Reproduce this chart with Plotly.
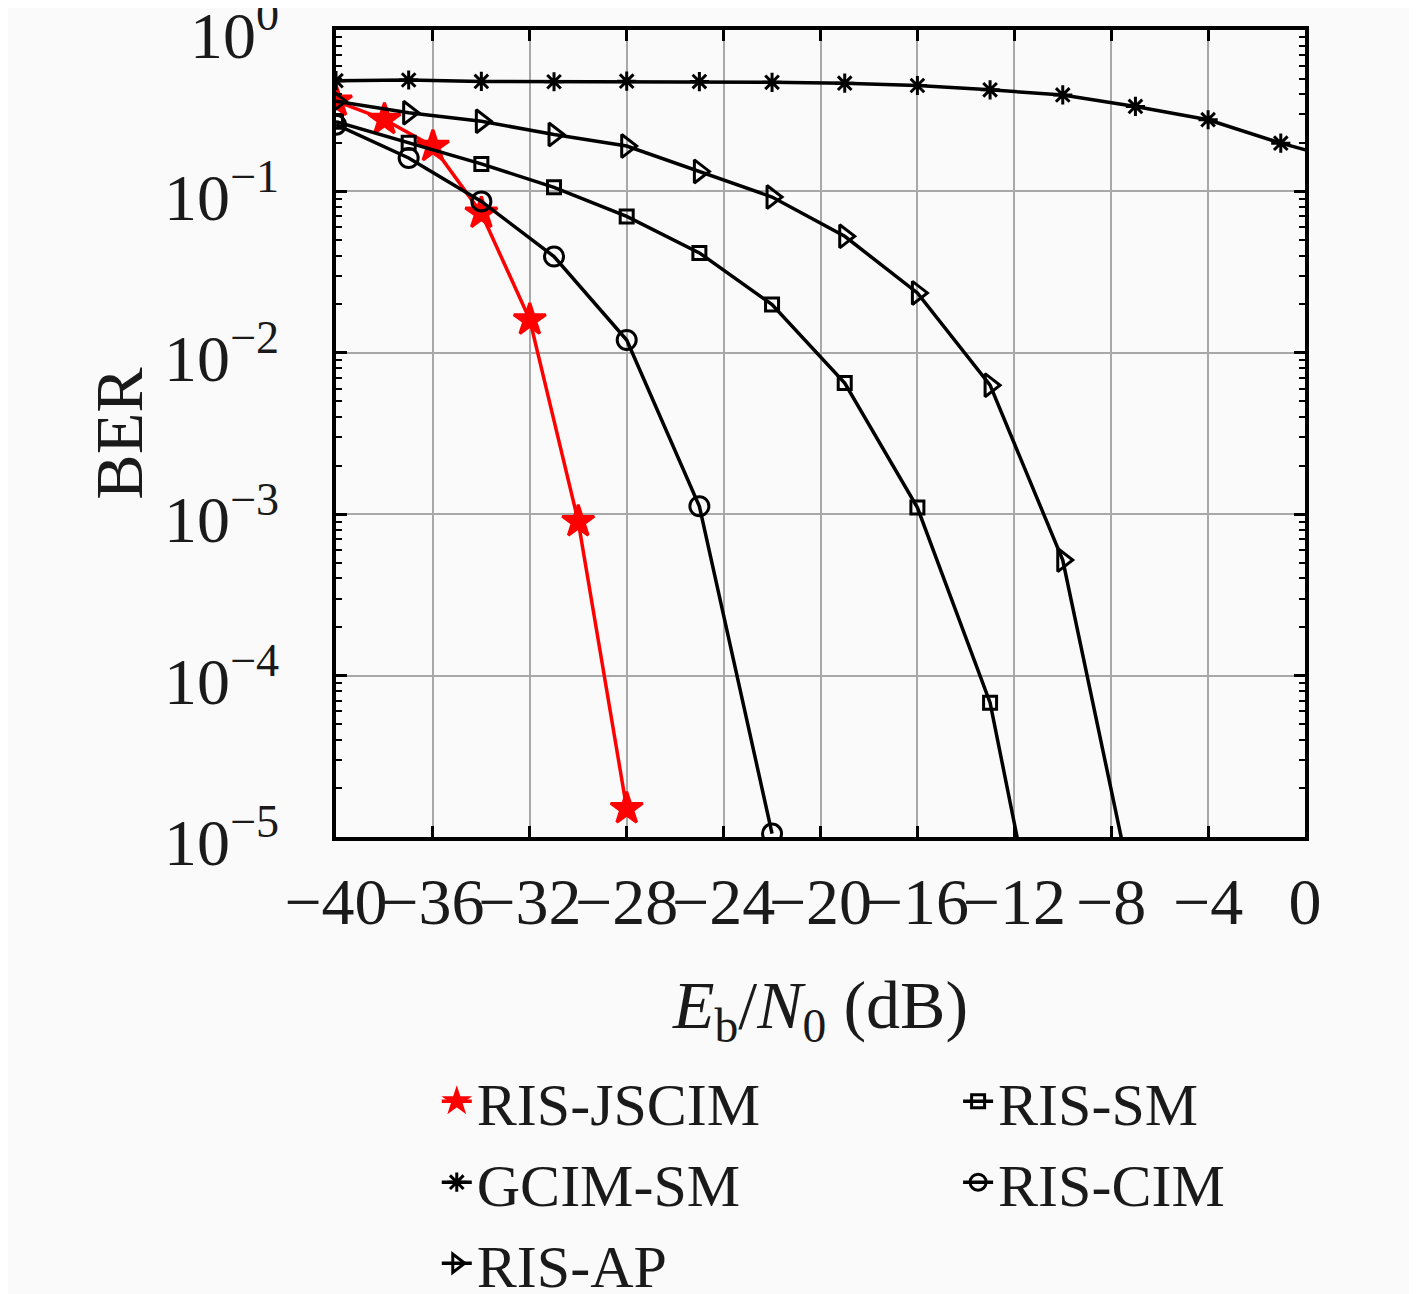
import plotly.graph_objects as go

# Eb/N0 (dB) grids
snr_jscim = [-40, -38, -36, -34, -32, -30, -28]
snr_3db = [-40, -37, -34, -31, -28, -25, -22, -19, -16, -13, -10, -7, -4, -1, 2]

# BER values
ber_jscim = [0.362, 0.279, 0.190, 0.0733, 0.0160, 9.0e-4, 1.5e-5]
ber_gcim = [0.485, 0.49, 0.48, 0.478, 0.482, 0.479, 0.474, 0.468, 0.453, 0.426,
            0.396, 0.336, 0.278, 0.199, 0.15]
ber_ap = [0.362, 0.307, 0.272, 0.225, 0.191, 0.133, 0.0923, 0.0527, 0.0235,
          6.3e-3, 5.2e-4, 3.8e-6]
ber_sm = [0.27, 0.200, 0.148, 0.106, 0.070, 0.0416, 0.0199, 6.5e-3, 1.1e-3,
          6.8e-5, 3.9e-7]
ber_cim = [0.259, 0.161, 0.0867, 0.0395, 0.012, 1.12e-3, 1.05e-5]

x_ticks = [-40, -36, -32, -28, -24, -20, -16, -12, -8, -4, 0]
y_ticks = [1, 0.1, 0.01, 1e-3, 1e-4, 1e-5]
y_ticktext = ["10<sup>0</sup>", "10<sup>−1</sup>", "10<sup>−2</sup>",
              "10<sup>−3</sup>", "10<sup>−4</sup>", "10<sup>−5</sup>"]

FONT = "Liberation Serif"
INK = "#1a1a1a"
BG = "#fafafa"

fig = go.Figure()

def add(x, y, name, color, symbol, size, legend):
    fig.add_trace(go.Scatter(
        x=x, y=y, name=name, mode="lines+markers", legend=legend,
        line=dict(color=color, width=3.5),
        marker=dict(symbol=symbol, size=size, color=color,
                    line=dict(color=color, width=3)),
    ))

add(snr_jscim, ber_jscim, "RIS-JSCIM", "#ff0000", "star", 24, "legend")
add(snr_3db, ber_gcim, "GCIM-SM", "black", "asterisk-open", 16, "legend")
add(snr_3db[:len(ber_ap)], ber_ap, "RIS-AP", "black", "triangle-right-open", 20, "legend")
add(snr_3db[:len(ber_sm)], ber_sm, "RIS-SM", "black", "square-open", 13, "legend2")
add(snr_3db[:len(ber_cim)], ber_cim, "RIS-CIM", "black", "circle-open", 19, "legend2")

minor_vals = [m * 10 ** e for e in range(-5, 0) for m in range(2, 10)]

axis_common = dict(
    showline=True, linewidth=3.5, linecolor="black", mirror="ticks",
    ticks="inside", ticklen=11, tickwidth=2.5, tickcolor="black",
    showgrid=True, gridcolor="#a8a8a8", gridwidth=2, zeroline=False,
    automargin=False, ticklabeloverflow="allow",
    tickfont=dict(family=FONT, size=66, color=INK),
    title_font=dict(family=FONT, size=68, color=INK),
)

fig.update_xaxes(
    range=[-40, 0], tickvals=x_ticks, tickangle=0, ticklabelstandoff=4,
    title=dict(text="<i>E</i><sub>b</sub>/<i>N</i><sub>0</sub> (dB)", standoff=44),
    **axis_common,
)
fig.update_yaxes(
    type="log", range=[-5, 0], tickvals=y_ticks, ticktext=y_ticktext,
    ticklabelstandoff=40, ticklabelshift=5,
    minor=dict(tickvals=minor_vals, ticks="inside", ticklen=6, tickwidth=2,
               tickcolor="black", showgrid=False),
    title=dict(text="BER", standoff=0),
    **axis_common,
)

# the page adds an 8px body margin, so the margins are shifted to compensate
legend_style = dict(font=dict(family=FONT, size=60, color=INK),
                    bgcolor="rgba(0,0,0,0)", yanchor="top", xanchor="left",
                    tracegroupgap=0)
fig.update_layout(
    width=1417, height=1294,
    margin=dict(l=328, r=120, t=22, b=465, autoexpand=False),
    paper_bgcolor=BG, plot_bgcolor=BG,
    legend=dict(x=0.104, y=-0.271, **legend_style),
    legend2=dict(x=0.642, y=-0.271, **legend_style),
)

fig.write_html("out.html")
